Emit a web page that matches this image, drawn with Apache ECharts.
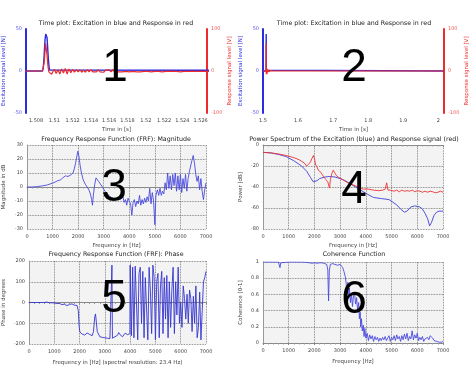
<!DOCTYPE html>
<html><head><meta charset="utf-8">
<script src="https://cdn.jsdelivr.net/npm/echarts@6/dist/echarts.min.js"></script>
<style>html,body{margin:0;padding:0;background:#fff}#c{width:474px;height:373px}</style>
</head><body><div id="c"></div>
<script>
// ---------- data ----------
const exciteTime = [1.5, 1.5087, 1.50878, 1.50885, 1.50892, 1.50899, 1.50906, 1.50913, 1.5092, 1.50927, 1.50934, 1.50941, 1.50948, 1.50955, 2.016];
const exciteForce = [0, 0, 3, 12, 26, 38, 44, 45, 40, 28, 15, 6, 1, 0, 0];

const responseTime = [1.5, 1.5087, 1.5088, 1.5089, 1.509, 1.50905, 1.5091, 1.5092, 1.5093, 1.5094, 1.5095, 1.5096, 1.5097,
  1.5098, 1.51, 1.5102, 1.5104, 1.5106, 1.5108, 1.511, 1.5112, 1.5114, 1.5116, 1.5118, 1.512, 1.5122, 1.5124, 1.5126, 1.5128,
  1.513, 1.5132, 1.5134, 1.5136, 1.5138, 1.514, 1.5142, 1.5144, 1.5146, 1.5148, 1.515, 1.5152, 1.5154, 1.5156, 1.5158,
  1.516, 1.5162, 1.5164, 1.5166, 1.5168, 1.517, 1.5172, 1.5174, 1.5176, 1.5178, 1.518, 1.5182, 1.5184, 1.5186, 1.5188,
  1.519, 1.5192, 1.5194, 1.5196, 1.5198, 1.52, 1.5202, 1.5204, 1.5206, 1.5208, 1.521, 1.5212, 1.5214, 1.5216, 1.5218,
  1.522, 1.5222, 1.5224, 1.5226, 1.5228, 1.523, 1.5232, 1.5234, 1.5236, 1.5238, 1.524, 1.5242, 1.5244, 1.5246, 1.5248,
  1.525, 1.5252, 1.5254, 1.5256, 1.5258, 1.526, 1.5262, 1.5264, 1.5266, 1.53, 2.016];
const responseVolt = [0, 0, 4, 22, 52, 66, 62, 38, 12, -2, -6, -4, -8,
  -3, 4, -6, 3, -7, 5, -5, 6, -7, 5, -4, 4, -3, 3, -2, 3,
  -3, 2, -3, 3, -2, 3, -2, 2, -2, 3, -2, 1, -3, 2, -1,
  3, -2, 3, -2, 2, -2, 1, -2, 2, -1, 2, -2, 2, -1, 1,
  -2, 2, -2, 1, -1, 2, -1, 1, -2, 1, -1, 2, -1, 1, -2,
  1, -1, 1, -1, 2, -1, 1, -1, 1, -2, 1, -1, 1, -1, 1,
  -1, 2, -1, 1, -1, 1, -1, 1, -1, 0, 0];

const timeTicksZoom = [1.508, 1.51, 1.512, 1.514, 1.516, 1.518, 1.52, 1.522, 1.524, 1.526];
const timeTicksFull = [1.5, 1.6, 1.7, 1.8, 1.9, 2];

const frfMagFreq = [0, 200, 400, 600, 800, 1000, 1100, 1200, 1300, 1400, 1500, 1600, 1700, 1800, 1850, 1900, 1950, 1990, 2030, 2080,
  2130, 2200, 2280, 2350, 2420, 2480, 2530, 2560, 2600, 2650, 2700, 2750, 2800, 2870, 2950, 3050, 3150, 3250, 3350, 3450,
  3550, 3650, 3750, 3800, 3850, 3900, 3950, 4000, 4050, 4100, 4150, 4200, 4250, 4300, 4350, 4400, 4450, 4500, 4550, 4600,
  4650, 4700, 4750, 4800, 4850, 4900, 4950, 5000, 5040, 5100, 5150, 5200, 5250, 5300, 5350, 5400, 5450, 5500, 5550, 5600,
  5650, 5700, 5750, 5800, 5850, 5900, 5950, 6000, 6050, 6100, 6150, 6200, 6250, 6300, 6350, 6400, 6450, 6500, 6550, 6600,
  6650, 6700, 6750, 6800, 6850, 6900, 6950, 7000];
const frfMagDb = [0, 0, 0.3, 0.8, 1.5, 2.8, 3.5, 4.5, 5, 6.5, 8, 7.5, 8.5, 10, 13, 17, 22, 25.5, 22, 15,
  10, 5, 2, 1, -2, -5, -9, -13, -5, 2, 6.5, 6, 4, 3, 0, -3, -5, -7, -8, -9,
  -8, -9, -7, -11, -9, -13, -8, -10, -12, -20, -11, -9, -14, -10, -12, -6, -13, -9, -12, -8,
  -11, -7, -10, -1, -12, -4, -10, -27, -6, -2, -6, -1, -6, -3, -5, 3, -2, 10, -1, 8,
  -2, 9, 1, 10, -3, 8, -2, 9, -4, 6, -1, 9, -3, 6, 11, 12, 19, 22.5, 17, 9,
  4, 8, -2, 6, -3, -9, -2, 3];

const psdExcFreq = [0, 300, 600, 900, 1200, 1500, 1700, 1850, 1950, 2000, 2100, 2200, 2400, 2600, 2800, 3000, 3200, 3400, 3600, 3800,
  4000, 4300, 4600, 4900, 5200, 5350, 5500, 5600, 5750, 5900, 6100, 6200, 6300, 6400, 6480, 6550, 6650, 6750, 6850, 7000];
const psdExcDb = [-7, -7.5, -9, -11, -15, -20, -25, -31, -35, -36, -34, -32, -30.5, -30, -30.5, -32, -34, -37, -40, -43,
  -46, -50, -51, -52, -57, -61, -64, -63, -59, -58, -59, -61, -65, -70, -77, -74, -67, -64, -63, -63];

const psdRespFreq = [0, 300, 600, 900, 1200, 1400, 1600, 1700, 1780, 1850, 1900, 1960, 2000, 2050, 2100, 2150, 2250, 2350, 2450, 2520,
  2560, 2590, 2620, 2680, 2730, 2780, 2850, 2950, 3100, 3300, 3500, 3700, 3900, 4100, 4300, 4500, 4650, 4750, 4810, 4860,
  4950, 5100, 5200, 5300, 5400, 5500, 5600, 5700, 5800, 5900, 6000, 6100, 6200, 6300, 6400, 6500, 6600, 6700, 6800, 6900, 7000];
const psdRespDb = [-7, -7.5, -8.5, -10, -12, -14, -17, -20, -18, -16, -13, -10, -13, -19, -21, -24, -26, -30, -33, -35,
  -39, -41, -33, -27, -24, -26, -29, -31, -33, -36, -38, -40, -42, -42, -43, -43.5, -43, -42, -36, -43,
  -43, -44, -43, -44.5, -43, -44, -43.5, -44, -43, -44.5, -43.5, -44, -45, -44, -45, -44, -44.5, -45.5, -45, -44, -45];

const phaseFreq = [0, 300, 600, 650, 700, 800, 1000, 1100, 1200, 1300, 1400, 1500, 1600, 1700, 1800, 1850, 1900, 1950, 1980, 2010,
  2100, 2200, 2300, 2350, 2400, 2500, 2550, 2600, 2630, 2660, 2700, 2800, 2900, 3000, 3100, 3200, 3270, 3280, 3290, 3300,
  3400, 3500, 3550, 3600, 3700, 3800, 3900, 3950, 3990, 4000, 4050, 4100, 4150, 4200, 4300, 4350, 4400, 4450, 4500, 4550,
  4600, 4700, 4750, 4800, 4850, 4900, 4950, 5000, 5050, 5100, 5150, 5200, 5250, 5300, 5350, 5400, 5450, 5500, 5550, 5600,
  5650, 5700, 5750, 5800, 5850, 5900, 5950, 6000, 6050, 6100, 6150, 6200, 6250, 6300, 6350, 6400, 6450, 6500, 6550, 6600,
  6650, 6700, 6750, 6800, 6850, 6900, 6950, 7000];
const phaseDeg = [0, 0, 0, 6, 2, -1, -2, -5, -4, -10, -8, -15, -9, -7, -13, -20, -14, -40, -110, -142,
  -152, -157, -147, -144, -154, -160, -140, -70, -55, -90, -140, -165, -168, -170, -172, -174, -170, 180, 175, -172,
  -165, -158, -145, -155, -165, -148, -155, -160, -150, 180, -160, 170, -170, 175, -180, 140, 170, -100, 150, -170,
  120, -180, 170, 60, -150, 180, 120, -180, 100, 140, -170, 80, 150, -150, 120, -80, 130, -170, 100, -120,
  60, 170, -150, 100, -60, 170, -100, 0, -120, 80, 20, -80, 40, -100, 60, 20, -140, 30, -100, 80,
  -170, -120, 50, -180, -40, 100, 120, 150];

const cohFreq = [0, 600, 640, 660, 690, 720, 1000, 1500, 1700, 1800, 1900, 2000, 2100, 2200, 2300, 2400, 2480, 2520, 2550, 2580,
  2620, 2700, 2800, 2900, 3000, 3050, 3100, 3150, 3200, 3230, 3260, 3300, 3330, 3360, 3400, 3440, 3480, 3520, 3560, 3600,
  3640, 3680, 3720, 3750, 3780, 3800, 3830, 3860, 3900, 3930, 3960, 4000, 4050, 4100, 4150, 4200, 4250, 4300, 4350, 4400,
  4450, 4500, 4550, 4600, 4650, 4700, 4750, 4800, 4850, 4900, 4950, 5000, 5050, 5100, 5150, 5200, 5250, 5300, 5350, 5400,
  5450, 5500, 5550, 5600, 5650, 5700, 5750, 5800, 5850, 5900, 5950, 6000, 6050, 6100, 6150, 6200, 6250, 6300, 6350, 6400,
  6450, 6500, 6550, 6600, 6650, 6700, 6750, 6800, 6850, 6900, 6950, 7000];
const cohValue = [1, 1, 0.99, 0.93, 0.99, 1, 1, 1, 0.995, 0.99, 0.985, 0.99, 0.985, 0.99, 0.99, 0.98, 0.97, 0.9, 0.52, 0.9,
  0.97, 0.98, 0.97, 0.96, 0.97, 0.95, 0.93, 0.88, 0.82, 0.75, 0.62, 0.75, 0.55, 0.68, 0.5, 0.6, 0.45, 0.58, 0.62, 0.48,
  0.56, 0.4, 0.5, 0.3, 0.38, 0.2, 0.3, 0.15, 0.22, 0.08, 0.18, 0.06, 0.12, 0.03, 0.1, 0.05, 0.09, 0.02, 0.08, 0.04,
  0.07, 0.02, 0.06, 0.03, 0.07, 0.04, 0.08, 0.03, 0.06, 0.09, 0.02, 0.07, 0.04, 0.09, 0.03, 0.1, 0.05, 0.08, 0.02, 0.09,
  0.04, 0.11, 0.05, 0.12, 0.03, 0.08, 0.05, 0.15, 0.04, 0.1, 0.06, 0.12, 0.03, 0.07, 0.04, 0.08, 0.02, 0.05, 0.03, 0.07,
  0.04, 0.09, 0.11, 0.06, 0.03, 0.05, 0.02, 0.04, 0.01, 0.03, 0.01, 0.02];

const panelTitles = [
  'Time plot: Excitation in blue and Response in red',
  'Time plot: Excitation in blue and Response in red',
  'Frequency Response Function (FRF): Magnitude',
  'Power Spectrum of the Excitation (blue) and Response signal (red)',
  'Frequency Response Function (FRF): Phase',
  'Coherence Function'
];
const panelNumbers = ['1', '2', '3', '4', '5', '6'];

// ---------- layout ----------
const FONT = 'DejaVu Sans';
const BLUE = '#2b2be0', RED = '#ee2a2a';
function pairs(xs, ys) { return xs.map((x, i) => [x, ys[i]]); }
const plain = v => String(v);

const gridBoxes = [
  {left: 26, top: 29, width: 181, height: 84},
  {left: 263, top: 29, width: 181, height: 84},
  {left: 26, top: 145, width: 180, height: 84},
  {left: 263, top: 145, width: 180, height: 84},
  {left: 26, top: 261, width: 180, height: 83},
  {left: 263, top: 262, width: 180, height: 81}
];
const grids = gridBoxes.map((g, i) => Object.assign({}, g, i < 2 ? {show: false} :
  {show: true, backgroundColor: '#f3f3f3', borderWidth: 0}));

const labelStyle = {fontSize: 5, color: '#444', fontFamily: FONT, formatter: plain};
const nameStyle = {fontSize: 5.5, color: '#444', fontFamily: FONT};

function timeX(gi, min, max, ticks) {
  return {gridIndex: gi, type: 'value', min, max,
    axisLine: {show: false}, axisTick: {show: false}, splitLine: {show: false},
    axisLabel: Object.assign({margin: 5, customValues: ticks}, labelStyle),
    name: 'Time in [s]', nameLocation: 'middle', nameGap: 14, nameTextStyle: nameStyle};
}
function freqX(gi, name, gap) {
  return {gridIndex: gi, type: 'value', min: 0, max: 7000, interval: 1000,
    axisLine: {show: true, lineStyle: {color: '#888', width: 1}},
    axisTick: {show: true, length: 2, lineStyle: {color: '#888'}},
    minorTick: {show: true, splitNumber: 5, length: 1.5, lineStyle: {color: '#999'}},
    axisLabel: Object.assign({margin: 5}, labelStyle),
    splitLine: {show: true, lineStyle: {type: 'dotted', color: '#666', width: 0.8}},
    name, nameLocation: 'middle', nameGap: gap, nameTextStyle: nameStyle};
}
function sigY(gi, pos, min, max, interval, name, color, labelColor) {
  return {gridIndex: gi, type: 'value', position: pos, min, max, interval,
    axisLine: {show: true, onZero: false, lineStyle: {color, width: 2}},
    axisTick: {show: false}, splitLine: {show: false},
    axisLabel: {margin: 4, fontSize: 5, color: labelColor, fontFamily: FONT, formatter: plain},
    name, nameLocation: 'middle', nameGap: 19,
    nameTextStyle: {fontSize: 5.5, color, fontFamily: FONT}};
}
function freqY(gi, min, max, interval, name, gap) {
  return {gridIndex: gi, type: 'value', min, max, interval,
    axisLine: {show: true, onZero: false, lineStyle: {color: '#999', width: 1}},
    axisTick: {show: false},
    axisLabel: Object.assign({margin: 4}, labelStyle),
    splitLine: {show: true, lineStyle: {type: 'dotted', color: '#666', width: 0.8}},
    name, nameLocation: 'middle', nameGap: gap, nameTextStyle: nameStyle};
}

function line(xi, yi, data, color, width) {
  return {type: 'line', xAxisIndex: xi, yAxisIndex: yi, data, showSymbol: false, symbol: 'none',
    lineStyle: {color, width}, itemStyle: {color}, animation: false, silent: true};
}

const titlePos = [[116, 23], [354, 23], [116, 139], [354, 139], [116, 254], [354, 254]];
const numberPos = [[115, 68], [354, 68], [114, 188], [354, 190], [114, 299], [354, 300]];

const graphics = [];
panelTitles.forEach((t, i) => graphics.push({type: 'text', x: titlePos[i][0], y: titlePos[i][1], silent: true,
  style: {text: t, fill: '#222', font: 'normal 6.3px "DejaVu Sans"', align: 'center', verticalAlign: 'middle',
    textAlign: 'center', textVerticalAlign: 'middle'}}));
panelNumbers.forEach((t, i) => graphics.push({type: 'text', x: numberPos[i][0], y: numberPos[i][1], silent: true, z: 100,
  style: {text: t, fill: '#000', font: 'normal 46px "Liberation Sans"', align: 'center', verticalAlign: 'middle',
    textAlign: 'center', textVerticalAlign: 'middle'}}));

const option = {
  animation: false,
  backgroundColor: '#fff',
  grid: grids,
  xAxis: [
    timeX(0, 1.5069, 1.5267, timeTicksZoom),
    timeX(1, 1.5, 2.016, timeTicksFull),
    freqX(2, 'Frequency in [Hz]', 14),
    freqX(3, 'Frequency in [Hz]', 14),
    freqX(4, 'Frequency in [Hz] (spectral resolution: 23.4 Hz)', 16),
    freqX(5, 'Frequency [Hz]', 16)
  ],
  yAxis: [
    sigY(0, 'left', -50, 50, 50, 'Excitation signal level [N]', BLUE, '#5a5ae8'),
    sigY(0, 'right', -100, 100, 100, 'Response signal level [V]', RED, '#ee5a5a'),
    sigY(1, 'left', -50, 50, 50, 'Excitation signal level [N]', BLUE, '#5a5ae8'),
    sigY(1, 'right', -100, 100, 100, 'Response signal level [V]', RED, '#ee5a5a'),
    freqY(2, -30, 30, 10, 'Magnitude in dB', 20),
    freqY(3, -80, 0, 20, 'Power [dB]', 19),
    freqY(4, -200, 200, 100, 'Phase in degrees', 22),
    freqY(5, 0, 1, 0.2, 'Coherence [0-1]', 19)
  ],
  series: [
    line(0, 0, pairs(exciteTime, exciteForce), BLUE, 1.4),
    line(0, 1, pairs(responseTime, responseVolt), RED, 1.2),
    line(1, 2, pairs(exciteTime, exciteForce), BLUE, 1.4),
    line(1, 3, pairs(responseTime, responseVolt), RED, 1.2),
    line(2, 4, pairs(frfMagFreq, frfMagDb), '#4a4ae0', 0.9),
    line(3, 5, pairs(psdExcFreq, psdExcDb), '#3f3fd8', 0.9),
    line(3, 5, pairs(psdRespFreq, psdRespDb), '#ee3333', 0.9),
    line(4, 6, pairs(phaseFreq, phaseDeg), '#3535d0', 0.9),
    line(5, 7, pairs(cohFreq, cohValue), '#4a4ae0', 0.9)
  ],
  graphic: graphics
};

const chart = echarts.init(document.getElementById('c'), null, {renderer: 'canvas'});
chart.setOption(option);
</script></body></html>
